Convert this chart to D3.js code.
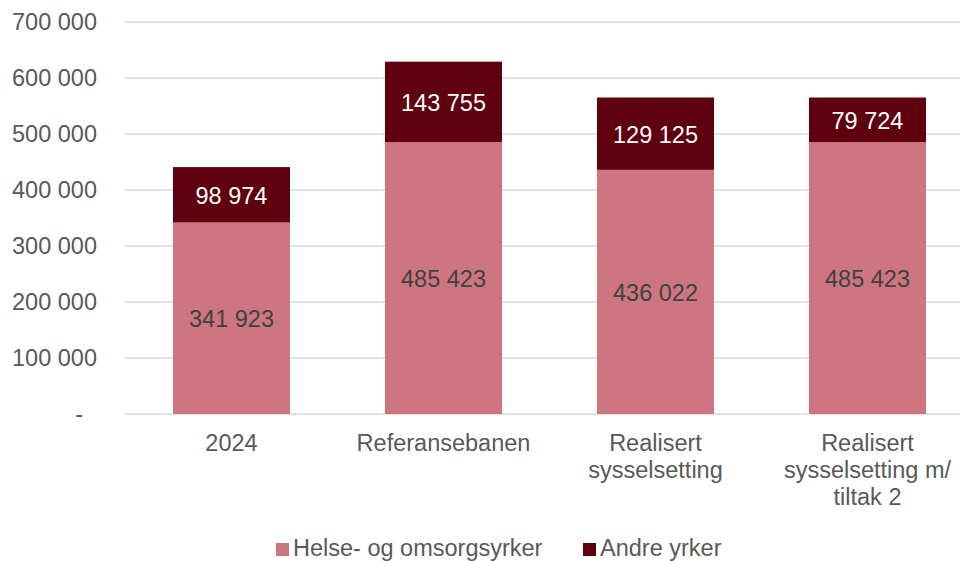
<!DOCTYPE html>
<html>
  <head>
    <meta charset="utf-8" />
    <script src="https://d3js.org/d3.v7.min.js"></script>
    <style>
      body { margin: 0; background: #fff; }
      svg { font-family: "Liberation Sans", Arial, sans-serif; }
    </style>
  </head>
  <body>
    <svg id="chart" width="960" height="561"></svg>
    <script>
      // data
      const categories = [
        ["2024"],
        ["Referansebanen"],
        ["Realisert", "sysselsetting"],
        ["Realisert", "sysselsetting m/", "tiltak 2"]
      ];
      const helse = [341923, 485423, 436022, 485423];
      const andre = [98974, 143755, 129125, 79724];
      const seriesNames = ["Helse- og omsorgsyrker", "Andre yrker"];
      const yTicks = [0, 100000, 200000, 300000, 400000, 500000, 600000, 700000];

      const colors = ["#cd7580", "#5e000e"];
      const labelColors = ["#404040", "#ffffff"];

      const locale = d3.formatLocale({ decimal: ",", thousands: " ", grouping: [3], currency: ["", ""] });
      const fmt = locale.format(",d");

      const svg = d3.select("#chart");

      var x = d3
        .scaleBand()
        .domain(d3.range(categories.length))
        .range([125.5, 973.5])
        .paddingInner(0.448)
        .paddingOuter(0.224);

      var y = d3.scaleLinear().domain([0, 700000]).range([414, 22]);

      // gridlines
      svg
        .append("g")
        .selectAll("line")
        .data(yTicks)
        .enter()
        .append("line")
        .attr("x1", 125)
        .attr("x2", 960)
        .attr("y1", (d) => y(d))
        .attr("y2", (d) => y(d))
        .attr("stroke", "#d9d9d9")
        .attr("stroke-width", 1.5);

      // y axis labels
      const yAxis = svg
        .append("g")
        .attr("transform", "translate(97,0)")
        .call(
          d3.axisLeft(y)
            .tickValues(yTicks)
            .tickSize(0)
            .tickPadding(0)
            .tickFormat((d) => (d === 0 ? "-" : fmt(d)))
        );
      yAxis.select(".domain").remove();
      yAxis
        .selectAll("text")
        .attr("font-size", 23.5)
        .attr("font-family", "Liberation Sans, Arial, sans-serif")
        .attr("fill", "#595959")
        .attr("dx", (d) => (d === 0 ? -14 : 0));

      // stacked bars
      const rows = categories.map((c, i) => ({ i: i, h: helse[i], a: andre[i] }));
      const stacked = d3.stack().keys(["h", "a"])(rows);

      const layer = svg
        .append("g")
        .selectAll("g")
        .data(stacked)
        .enter()
        .append("g")
        .attr("fill", (d, k) => colors[k]);

      layer
        .selectAll("rect")
        .data((d) => d)
        .enter()
        .append("rect")
        .attr("x", (d) => x(d.data.i))
        .attr("width", x.bandwidth())
        .attr("y", (d) => y(d[1]))
        .attr("height", (d) => y(d[0]) - y(d[1]));

      // value labels
      stacked.forEach(function (s, k) {
        svg
          .append("g")
          .selectAll("text")
          .data(s)
          .enter()
          .append("text")
          .attr("x", (d) => x(d.data.i) + x.bandwidth() / 2)
          .attr("y", (d) => (y(d[0]) + y(d[1])) / 2 + 1)
          .attr("dy", "0.35em")
          .attr("text-anchor", "middle")
          .attr("font-size", 23.5)
          .attr("fill", labelColors[k])
          .text((d) => fmt(d[1] - d[0]));
      });

      // category labels
      const cat = svg
        .append("g")
        .selectAll("text")
        .data(categories)
        .enter()
        .append("text")
        .attr("text-anchor", "middle")
        .attr("font-size", 23.5)
        .attr("fill", "#595959");
      cat
        .selectAll("tspan")
        .data((d, i) => d.map((t) => ({ t: t, i: i })))
        .enter()
        .append("tspan")
        .attr("x", (d) => x(d.i) + x.bandwidth() / 2)
        .attr("y", (d, j) => 451 + j * 27)
        .text((d) => d.t);

      // legend
      const legendX = [276, 583];
      const legend = svg
        .append("g")
        .selectAll("g")
        .data(seriesNames)
        .enter()
        .append("g")
        .attr("transform", (d, i) => "translate(" + legendX[i] + ",543)");
      legend
        .append("rect")
        .attr("width", 13)
        .attr("height", 13)
        .attr("fill", (d, i) => colors[i]);
      legend
        .append("text")
        .attr("x", 17)
        .attr("y", 13)
        .attr("font-size", 23.5)
        .attr("fill", "#595959")
        .text((d) => d);
    </script>
  </body>
</html>
